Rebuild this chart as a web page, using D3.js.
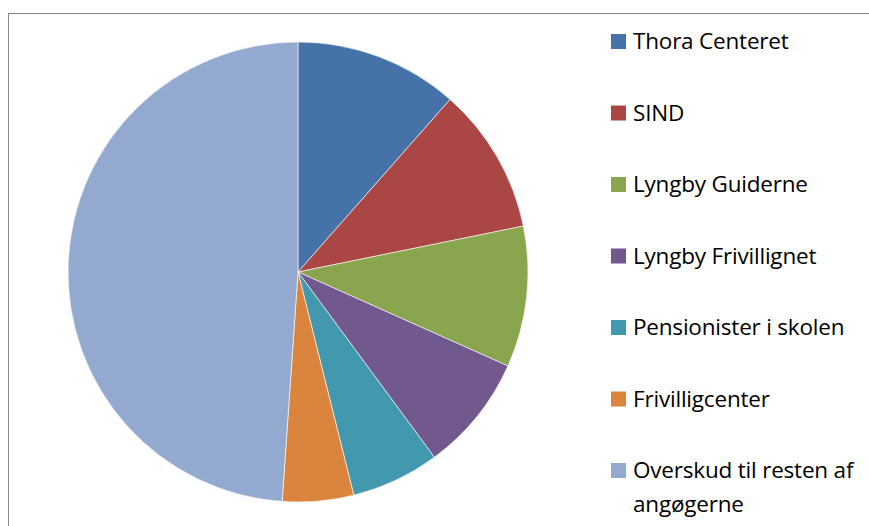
<!DOCTYPE html>
<html>
<head>
<meta charset="utf-8">
<script src="https://cdn.jsdelivr.net/npm/d3@7"></script>
<style>
body { margin:0; background:#fff; }
text { font-family: "Open Sans", "Liberation Sans", sans-serif; fill:#000; }
</style>
</head>
<body>
<svg id="chart"></svg>
<script>
var labels = ["Thora Centeret", "SIND", "Lyngby Guiderne", "Lyngby Frivillignet",
              "Pensionister i skolen", "Frivilligcenter", "Overskud til resten af angøgerne"];
var values = [11.5, 10.3, 9.9, 8.2, 6.2, 5.0, 48.9];
var colors = ["#4572A7", "#AA4643", "#89A54E", "#71588F", "#4198AF", "#DB843D", "#93A9CF"];

var screen = {width:869, height:526};
var svg = d3.select("#chart")
    .attr("width", screen.width)
    .attr("height", screen.height);

// chart area border, runs off the right and bottom edge
svg.append("rect")
    .attr("x", 8.5)
    .attr("y", 13.5)
    .attr("width", 900)
    .attr("height", 600)
    .attr("fill", "none")
    .attr("stroke", "#878787")
    .attr("stroke-width", 1);

var center = {x:298, y:272};
var radius = 230;

var pie = d3.pie().sort(null);
var arc = d3.arc().innerRadius(0).outerRadius(radius);
var color = d3.scaleOrdinal().domain(labels).range(colors);

var g = svg.append("g")
    .attr("transform", "translate(" + center.x + "," + center.y + ")");

g.selectAll("path")
    .data(pie(values))
    .enter()
    .append("path")
    .attr("d", arc)
    .attr("fill", function(d, i) { return color(labels[i]); })
    .attr("stroke", "#fff")
    .attr("stroke-width", 0.6);

// legend
var legend = svg.append("g")
    .attr("transform", "translate(611,0)");

var entries = legend.selectAll("g")
    .data(labels)
    .enter()
    .append("g")
    .attr("transform", function(d, i) { return "translate(0," + (49 + i * 71.5) + ")"; });

entries.append("rect")
    .attr("x", 0)
    .attr("y", -15)
    .attr("width", 15)
    .attr("height", 15)
    .attr("fill", function(d) { return color(d); });

entries.append("text")
    .attr("x", 22)
    .attr("y", 0)
    .style("font-size", "22.5px")
    .style("letter-spacing", "-0.2px")
    .each(function(d) {
        var t = d3.select(this);
        if (d.indexOf("Overskud") == 0) {
            t.append("tspan").attr("x", 22).attr("dy", 0).text("Overskud til resten af");
            t.append("tspan").attr("x", 22).attr("dy", 34).text("angøgerne");
        } else {
            t.text(d);
        }
    });
</script>
</body>
</html>
